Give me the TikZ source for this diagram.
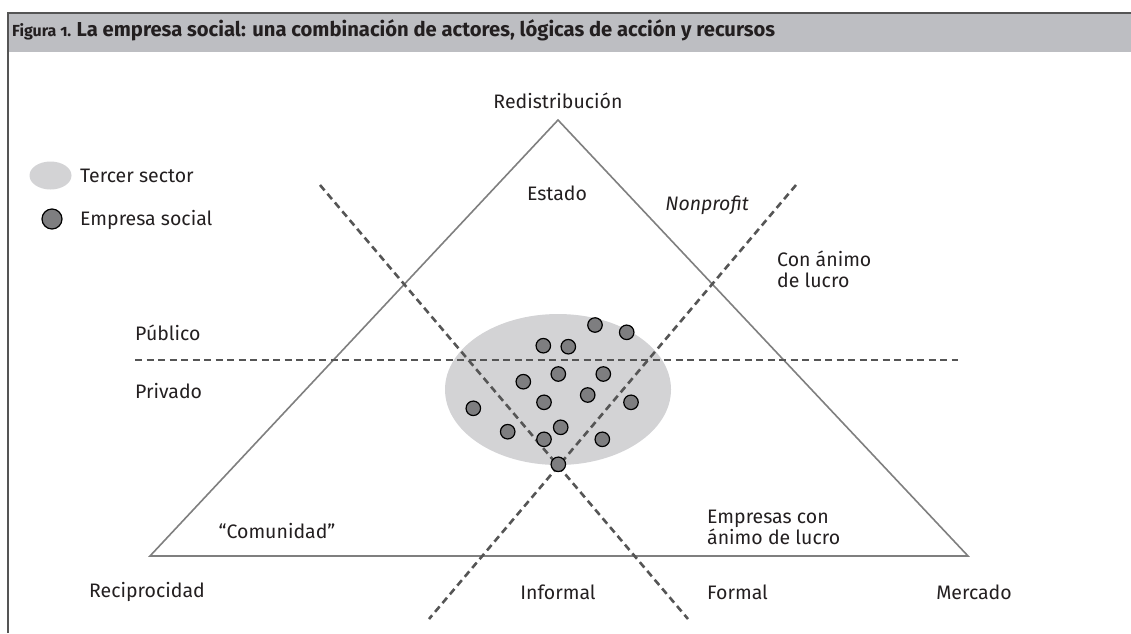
\documentclass[tikz,border=0pt]{standalone}
\usepackage{fontspec}
\setmainfont{Fira Sans}
\newfontfamily\headfont[Numbers=OldStyle]{Fira Sans}
\definecolor{bandgray}{HTML}{BDBEC2}
\definecolor{framegray}{HTML}{555555}
\definecolor{trigray}{HTML}{7F7F7F}
\definecolor{dashgray}{HTML}{555555}
\definecolor{ellgray}{HTML}{D3D3D5}
\definecolor{dotgray}{HTML}{7E7E80}
\definecolor{txt}{HTML}{231F20}
\tikzset{
  lbl/.style={text=txt, font=\fontsize{19.5}{21}\selectfont, inner sep=0pt},
  lbll/.style={lbl, anchor=west, align=left},
  dot/.style={circle, draw=black, line width=1.2pt, fill=dotgray, minimum size=14.5pt, inner sep=0pt},
  dashln/.style={draw=dashgray, line width=2.6pt, dash pattern=on 7pt off 4.5pt},
  triln/.style={draw=trigray, line width=1.6pt, line join=miter},
}
\begin{document}
\begin{tikzpicture}[x=1pt,y=-1pt]
\useasboundingbox (0,0) rectangle (1131,633);
% header band and frame
\fill[bandgray] (8,13) rectangle (1131,52);
\draw[framegray, line width=1.5pt] (8,633) -- (8,13) -- (1131,13);
\node[anchor=west, inner sep=0pt, text=txt] (figlbl) at (12,32)
  {\headfont\bfseries\fontsize{16}{18}\selectfont Figura 1.};
\node[anchor=base west, inner sep=0pt, text=txt, font=\bfseries\fontsize{20.2}{22}\selectfont] (title) at ([xshift=5pt]figlbl.base east)
  {La empresa social: una combinación de actores, lógicas de acción y recursos};
% third sector ellipse
\fill[ellgray] (558,389.5) ellipse [x radius=113, y radius=75.5];
% triangle
\coordinate (A) at (150,556);
\coordinate (B) at (968,556);
\coordinate (C) at (558,120);
\draw[triln] (A) -- (B) -- (C) -- cycle;
% dashed lines
\coordinate (h1) at (135,360);
\coordinate (h2) at (958,360);
\coordinate (d1a) at (320,185);
\coordinate (d1b) at (688,619);
\coordinate (d2a) at (796,185);
\coordinate (d2b) at (429,619);
\draw[dashln] (h1) -- (h2);
\draw[dashln] (d1a) -- (d1b);
\draw[dashln] (d2a) -- (d2b);
% dots
\foreach \i/\x/\y in {1/595/325, 2/626.7/332.3, 3/543.3/345.7, 4/568.3/346.7,
  5/558.3/374, 6/603.3/374, 7/523.3/381.7, 8/587.7/395, 9/544/402.3,
  10/631/402.3, 11/473.3/408.3, 12/507.7/431.7, 13/560.7/427.3,
  14/544/439.3, 15/602.3/439.3, 16/558.3/464.3}
  \node[dot] (s\i) at (\x,\y) {};
% legend
\fill[ellgray] (50.5,175.5) ellipse [x radius=21, y radius=14];
\node[lbll] (legter) at (80,176) {Tercer sector};
\node[dot, minimum size=20pt] (legdot) at (52,219) {};
\node[lbll] (legemp) at (80,220) {Empresa social};
% labels
\node[lbl] (redis) at (558,101) {Redistribución};
\node[lbl] (estado) at (557,193) {Estado};
\node[lbl, font=\fontsize{19.5}{21}\selectfont\itshape] (nonprofit) at (707,205) {Nonprofit};
\node[lbll] (conanimo) at (777,269) {Con ánimo\\de lucro};
\node[lbll] (publico) at (135,333) {Público};
\node[lbll] (privado) at (135,391) {Privado};
\node[lbl] (comunidad) at (277,531) {“Comunidad”};
\node[lbll] (empresas) at (707,527) {Empresas con\\ánimo de lucro};
\node[lbl] (recip) at (147,592) {Reciprocidad};
\node[lbl] (informal) at (558,592) {Informal};
\node[lbll] (formal) at (707,592) {Formal};
\node[lbl] (mercado) at (974,592) {Mercado};
\end{tikzpicture}
\end{document}
